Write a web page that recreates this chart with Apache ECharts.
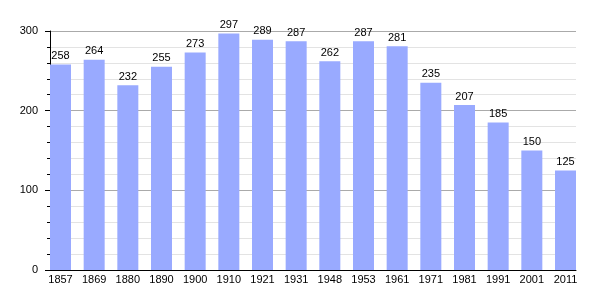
<!DOCTYPE html>
<html><head><meta charset="utf-8">
<script src="https://cdn.jsdelivr.net/npm/echarts@6/dist/echarts.min.js"></script>
<style>html,body{margin:0;padding:0;background:#fff}#c{width:605px;height:300px}</style>
</head><body><div id="c"></div>
<script>
const years = ['1857','1869','1880','1890','1900','1910','1921','1931','1948','1953','1961','1971','1981','1991','2001','2011'];
const population = [258,264,232,255,273,297,289,287,262,287,281,235,207,185,150,125];

const chart = echarts.init(document.getElementById('c'), null, {renderer:'canvas'});
const font = 'Liberation Sans, Arial, sans-serif';
chart.setOption({
  animation:false,
  grid:[
    {left:50, right:29, top:31, bottom:30},
    {left:43.67, right:22.67, top:31, bottom:30}
  ],
  xAxis:[
    {gridIndex:0, type:'category', data:years, axisLine:{show:true, lineStyle:{color:'#000', width:1}}, axisTick:{show:false}, axisLabel:{show:false}},
    {gridIndex:1, type:'category', data:years, axisLine:{show:false}, axisTick:{show:false},
     axisLabel:{color:'#000', fontFamily:font, fontSize:11, margin:4}}
  ],
  yAxis:[
    {gridIndex:0, type:'value', min:0, max:300, interval:100,
     axisLine:{show:true, lineStyle:{color:'#000', width:1}},
     axisTick:{show:true, length:5, lineStyle:{color:'#000'}},
     minorTick:{show:true, splitNumber:5, length:3, lineStyle:{color:'#000'}},
     axisLabel:{color:'#000', fontFamily:font, fontSize:11, margin:12},
     splitLine:{show:true, lineStyle:{color:'#aaa', width:1}},
     minorSplitLine:{show:true, lineStyle:{color:'#e3e3e3', width:1}}
    },
    {gridIndex:1, type:'value', min:0, max:300, interval:100, show:false, splitLine:{show:false}}
  ],
  series:[{
    type:'bar', xAxisIndex:1, yAxisIndex:1, data:population, barWidth:21,
    itemStyle:{color:'#99aaff'},
    label:{show:true, position:'top', distance:3, color:'#000', fontFamily:font, fontSize:11}
  }]
});
</script></body></html>
